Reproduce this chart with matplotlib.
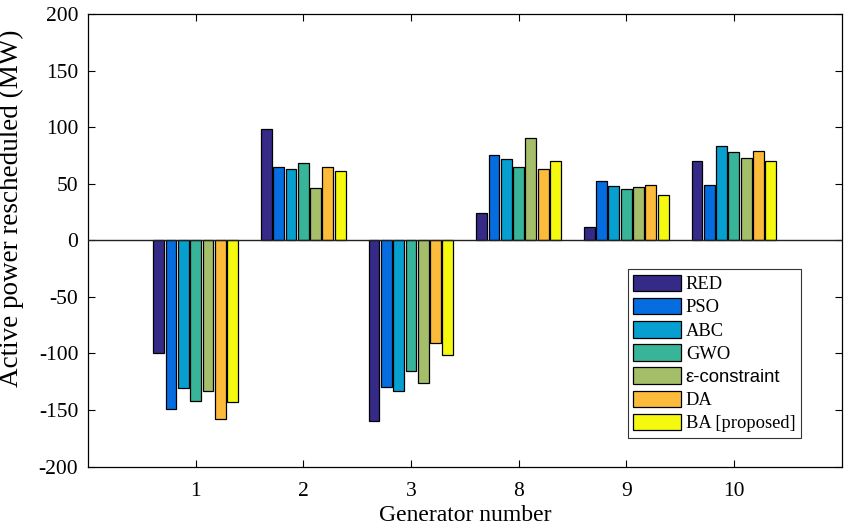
import numpy as np
import matplotlib
matplotlib.use("Agg")
import matplotlib.pyplot as plt

generators = ["1", "2", "3", "8", "9", "10"]
methods = ["RED", "PSO", "ABC", "GWO", "\u03b5-constraint", "DA", "BA [proposed]"]

red = [-100, 98, -160, 24, 12, 70]
pso = [-149, 65, -130, 75, 52, 49]
abc = [-131, 63, -133, 72, 48, 83]
gwo = [-142, 68, -116, 65, 45, 78]
eps_constraint = [-133, 46, -126, 90, 47, 73]
da = [-158, 65, -91, 63, 49, 79]
ba_proposed = [-143, 61, -101, 70, 40, 70]

series = [red, pso, abc, gwo, eps_constraint, da, ba_proposed]
colors = ["#352a87", "#056de0", "#069fcf", "#38b599", "#a5be6a", "#fdbb3b", "#f5f90f"]

plt.rcParams["font.family"] = ["Liberation Serif", "DejaVu Serif"]
plt.rcParams["axes.unicode_minus"] = False

fig = plt.figure(figsize=(8.46, 5.32), dpi=100)
ax = fig.add_axes([88 / 846, 1 - 466.5 / 532, (841.5 - 88) / 846, (466.5 - 14) / 532])

x = np.arange(1, len(generators) + 1)
n = len(series)
group_w = 0.8
step = group_w / n
bar_w = step * 0.88
handles = []
for i, (vals, c) in enumerate(zip(series, colors)):
    off = -group_w / 2 + step * (i + 0.5)
    h = ax.bar(x + off, vals, width=bar_w, color=c, edgecolor="black",
               linewidth=0.9, zorder=3)
    handles.append(h)

ax.axhline(0, color="#222222", linewidth=1.0, zorder=4)

ax.set_xlim(0, 7)
ax.set_ylim(-200, 200)
ax.set_xticks(x)
ax.set_xticklabels(generators)
ax.set_yticks(np.arange(-200, 201, 50))
ax.tick_params(direction="in", top=True, right=True, labelsize=15.5,
               length=5, width=0.8, pad=7)
ax.tick_params(axis="x", pad=11)
for s in ax.spines.values():
    s.set_linewidth(0.9)

ax.set_xlabel("Generator number", fontsize=17, labelpad=3)
ax.set_ylabel("Active power rescheduled (MW)", fontsize=19.5, labelpad=4)
ax.yaxis.set_label_coords(-0.085, 0.57)

leg = ax.legend(handles, methods, loc="lower right",
                bbox_to_anchor=((801 - 88) / (841.5 - 88), (466.5 - 438) / (466.5 - 14)),
                fontsize=13.3, frameon=True, fancybox=False, edgecolor="black",
                handlelength=2.6, handleheight=1.0, handletextpad=0.25,
                labelspacing=0.25, borderpad=0.3, borderaxespad=0)
leg.get_frame().set_linewidth(0.8)
for t in leg.get_texts():
    if t.get_text().startswith("\u03b5"):
        t.set_family(["Liberation Sans", "DejaVu Sans"])

fig.savefig("out.png", dpi=100)
